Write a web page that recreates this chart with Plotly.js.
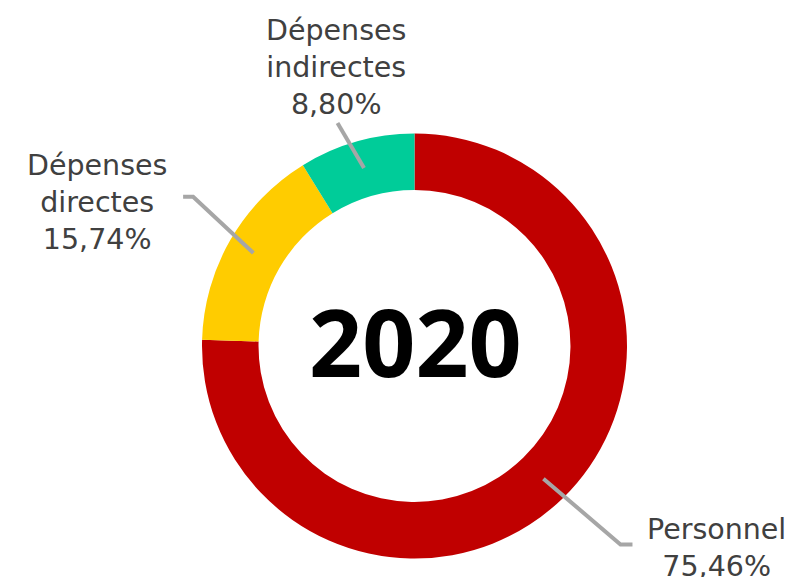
<!DOCTYPE html>
<html>
<head>
<meta charset="utf-8">
<script src="https://cdn.plot.ly/plotly-3.0.1.min.js"></script>
<style>html,body{margin:0;padding:0;background:#fff;}#chart{width:797px;height:577px;}</style>
</head>
<body>
<div id="chart"></div>
<script>
const categories = ["Personnel", "Dépenses directes", "Dépenses indirectes"];
const values = [75.46, 15.74, 8.80];
const valueLabels = ["75,46%", "15,74%", "8,80%"];
const colors = ["#C00000", "#FFCC00", "#00CC99"];
const centerLabel = "2020";

const W = 797, H = 577;
// pie placement in pixels
const cx = 414.5, cy = 346, R = 212.5;
const domX = [(cx - R) / W, (cx + R) / W];
const domY = [1 - (cy + R) / H, 1 - (cy - R) / H];
const px = x => x / W;
const py = y => 1 - y / H;

// mid-angles from data (clockwise from top)
const total = values.reduce((a, b) => a + b, 0);
let cum = 0;
const mids = values.map(v => { const m = (cum + v / 2) / total * 2 * Math.PI; cum += v; return m; });
const pt = (ang, r) => [cx + r * Math.sin(ang), cy - r * Math.cos(ang)];

const lineColor = "#A6A6A6";
const shapes = [];
// leader line specs: inner radius, outer radius, angle offset(deg), horizontal tail
const leader = [
  {r0: 185, r1: 286, off: -1.9, tail: 12},
  {r0: 186, r1: 267, off: 4, tail: -10},
  {r0: 185, r1: 236, off: -3.2, tail: 0}
];
mids.forEach((m, i) => {
  const L = leader[i];
  const a = pt(m, L.r0);
  const b = pt(m + L.off * Math.PI / 180, L.r1);
  let path = `M ${px(a[0])},${py(a[1])} L ${px(b[0])},${py(b[1])}`;
  if (L.tail) path += ` L ${px(b[0] + L.tail)},${py(b[1])}`;
  shapes.push({type: "path", xref: "paper", yref: "paper", path: path,
    line: {color: lineColor, width: 4}});
});

const labelFont = {family: "DejaVu Sans, Noto Sans, sans-serif", size: 28.5, color: "#404040"};
const labelPos = [[716.5, 548], [97, 203], [335.5, 67]];
const annotations = categories.map((c, i) => ({
  xref: "paper", yref: "paper", x: px(labelPos[i][0]), y: py(labelPos[i][1]),
  xanchor: "center", yanchor: "middle", showarrow: false,
  text: c.replace(" ", "<br>") + "<br>" + valueLabels[i], font: labelFont, align: "center"
}));
annotations.push({
  xref: "paper", yref: "paper", x: px(415), y: py(341), xanchor: "center", yanchor: "middle",
  showarrow: false, text: "<b>" + centerLabel + "</b>",
  font: {family: "Noto Sans, Open Sans, sans-serif", size: 93, color: "#000000"}
});

Plotly.newPlot("chart", [{
  type: "pie", labels: categories, values: values, hole: 0.734,
  sort: false, direction: "clockwise", rotation: 0,
  marker: {colors: colors, line: {width: 0}},
  textinfo: "none", hoverinfo: "label+percent",
  domain: {x: domX, y: domY}
}], {
  width: W, height: H, margin: {l: 0, r: 0, t: 0, b: 0},
  paper_bgcolor: "#ffffff", showlegend: false,
  shapes: shapes, annotations: annotations
}, {displayModeBar: false, staticPlot: true});
</script>
</body>
</html>
